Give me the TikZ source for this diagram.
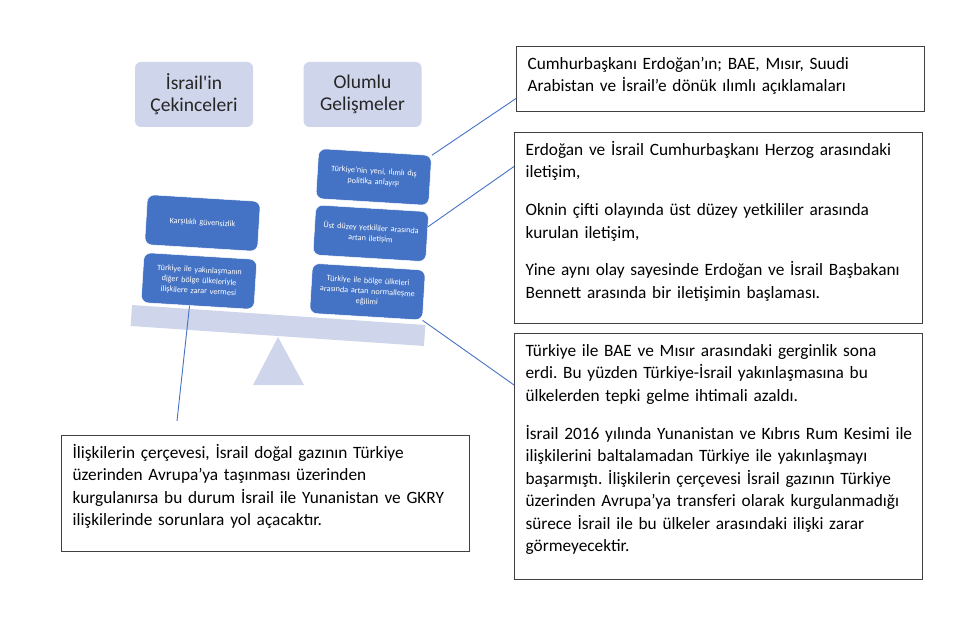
\documentclass[tikz,border=0pt]{standalone}
\usepackage{fontspec}
\setmainfont{Carlito}
\usepackage{tikz}
\usetikzlibrary{calc}
\definecolor{officeblue}{HTML}{4472C4}
\definecolor{lavender}{HTML}{CFD5EA}
\definecolor{bk80}{HTML}{404040}
\definecolor{bk90}{HTML}{262626}
% depth below the last line of a note
\newcommand{\notegap}[1]{\rule[-#1]{0pt}{#1}}
\tikzset{
  factorbox/.style={
    rectangle, rounded corners=7pt, fill=officeblue, draw=white, line width=0.5pt,
    minimum width=113pt, minimum height=50pt, text width=108pt,
    font=\fontsize{8.2}{10.5}\selectfont, text=white, align=center,
    inner sep=2pt, rotate=-3.5
  },
  headbox/.style={
    rectangle, rounded corners=6pt, fill=lavender,
    minimum width=118pt, minimum height=65pt,
    font=\fontsize{19.5}{22}\selectfont, text=bk90, align=center
  },
  notebox/.style={
    rectangle, draw=bk80, line width=1.2pt, anchor=north west,
    text width=386pt, inner xsep=11pt, inner ysep=7pt,
    font=\fontsize{17.3}{22.5}\selectfont\frenchspacing, align=left,
    execute at begin node=\strut
  },
  linkline/.style={draw=officeblue, line width=0.9pt},
}

\begin{document}
\begin{tikzpicture}[x=1pt, y=-1pt]
    \useasboundingbox (0,0) rectangle (958,636);

    % Seesaw: pivot and beam
    \fill[lavender] (253,385) -- (278,337) -- (304,385) -- cycle;
    \node[rectangle, fill=lavender, minimum width=294pt, minimum height=21pt,
          rotate=-3.9] (beam) at (278,325.5) {};

    % Column headers
    \node[headbox] (concerns) at (194,94.5) {\.Israil\textquotesingle in\\Çekinceleri};
    \node[headbox] (gains) at (362.5,94.5) {Olumlu\\Gelişmeler};

    % Left pan
    \node[factorbox] (distrust) at (202.5,223) {Karşılıklı güvensizlik};
    \node[factorbox] (harm) at (199,281) {Türkiye ile yakınlaşmanın\\diğer bölge ülkeleriyle\\ilişkilere zarar vermesi};

    % Right pan
    \node[factorbox] (policy) at (373.7,177) {Türkiye\textquotesingle nin yeni, ılımlı dış\\politika anlayışı};
    \node[factorbox] (contact) at (370.8,233.3) {Üst düzey yetkililer arasında\\artan iletişim};
    \node[factorbox] (normal) at (367.5,291.7) {Türkiye ile bölge ülkeleri\\arasında artan normalleşme\\eğilimi};

    % Notes
    \node[notebox] (noteA) at (516,46) {Cumhurbaşkanı Erdoğan’ın; BAE, Mısır, Suudi\\
      Arabistan ve İsrail’e dönük ılımlı açıklamaları\notegap{13pt}};
    \node[notebox] (noteB) at (514,132) {Erdoğan ve İsrail Cumhurbaşkanı Herzog arasındaki\\
      iletişim,\\[15.2pt]
      Oknin çifti olayında üst düzey yetkililer arasında\\
      kurulan iletişim,\\[15.2pt]
      Yine aynı olay sayesinde Erdoğan ve İsrail Başbakanı\\
      Bennett arasında bir iletişimin başlaması.\notegap{18pt}};
    \node[notebox] (noteC) at (514,333) {Türkiye ile BAE ve Mısır arasındaki gerginlik sona\\
      erdi. Bu yüzden Türkiye-İsrail yakınlaşmasına bu\\
      ülkelerden tepki gelme ihtimali azaldı.\\[15.5pt]
      \mbox{İsrail 2016 yılında Yunanistan ve Kıbrıs Rum Kesimi ile}\\
      ilişkilerini baltalamadan Türkiye ile yakınlaşmayı\\
      başarmıştı. İlişkilerin çerçevesi İsrail gazının Türkiye\\
      üzerinden Avrupa’ya transferi olarak kurgulanmadığı\\
      sürece İsrail ile bu ülkeler arasındaki ilişki zarar\\
      görmeyecektir.\notegap{21pt}};
    \node[notebox] (noteD) at (61,435) {İlişkilerin çerçevesi, İsrail doğal gazının Türkiye\\
      üzerinden Avrupa’ya taşınması üzerinden\\
      kurgulanırsa bu durum İsrail ile Yunanistan ve GKRY\\
      ilişkilerinde sorunlara yol açacaktır.\notegap{19pt}};

    % Callout lines
    \coordinate (tipD) at (177,421);
    \draw[linkline] (policy.north east) -- ($(noteA.north west)!0.79!(noteA.south west)$);
    \draw[linkline] ($(contact.north east)!0.3!(contact.south east)$) -- ($(noteB.north west)!0.18!(noteB.south west)$);
    \draw[linkline] (normal.south east) -- ($(noteC.north west)!0.21!(noteC.south west)$);
    \draw[linkline] ($(harm.south west)!0.43!(harm.south east)$) -- (tipD);
\end{tikzpicture}
\end{document}
